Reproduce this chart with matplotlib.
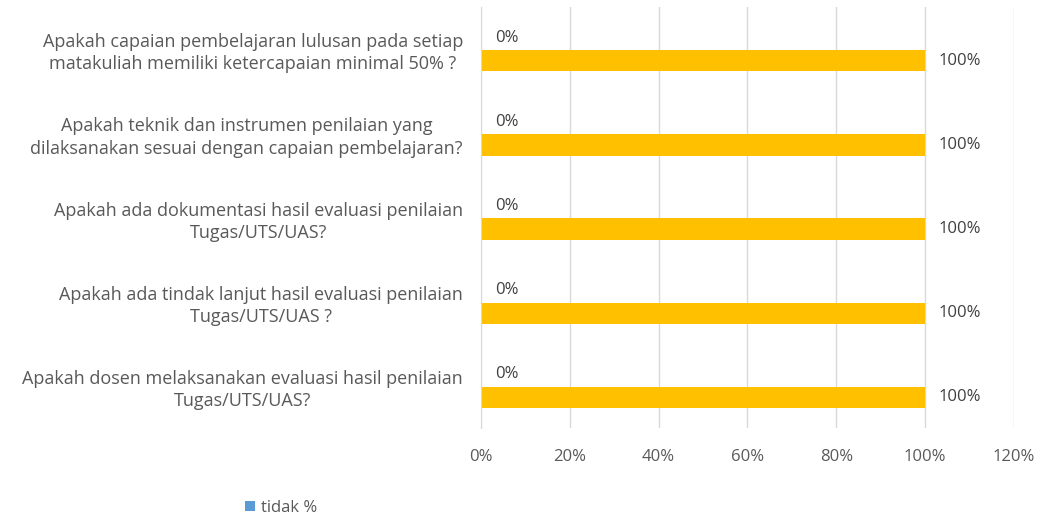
import matplotlib.pyplot as plt
import numpy as np

# === DATA ===
categories = [
    "Apakah capaian pembelajaran lulusan pada setiap\nmatakuliah memiliki ketercapaian minimal 50% ?",
    "Apakah teknik dan instrumen penilaian yang\ndilaksanakan sesuai dengan capaian pembelajaran?",
    "Apakah ada dokumentasi hasil evaluasi penilaian\nTugas/UTS/UAS?",
    "Apakah ada tindak lanjut hasil evaluasi penilaian\nTugas/UTS/UAS ?",
    "Apakah dosen melaksanakan evaluasi hasil penilaian\nTugas/UTS/UAS?",
]
tidak_pct = [0, 0, 0, 0, 0]
ya_pct = [100, 100, 100, 100, 100]
x_ticks = [0, 20, 40, 60, 80, 100, 120]

plt.rcParams['font.family'] = ['Open Sans', 'DejaVu Sans']

fig = plt.figure(figsize=(10.48, 5.19), dpi=100)
ax = fig.add_axes([0.459, 0.1753, 0.5085, 0.8112])

# two bars per question: tidak on top, ya below
y = np.arange(len(categories))
h = 0.254
off = 0.137
b_tidak = ax.barh(y - off, tidak_pct, height=h, color="#5B9BD5", label="tidak %")
b_ya = ax.barh(y + off, ya_pct, height=h, color="#FFC000", label="ya %")

for bars in (b_tidak, b_ya):
    for rect in bars:
        v = rect.get_width()
        ax.annotate(f"{v:.0f}%", (v, rect.get_y() + rect.get_height() / 2),
                    xytext=(10, 0), textcoords="offset points",
                    ha="left", va="center", fontsize=12, color="#404040")

ax.set_ylim(len(categories) - 0.5, -0.5)
ax.set_xlim(0, 120)
ax.set_xticks(x_ticks)
ax.set_xticklabels([f"{t}%" for t in x_ticks], fontsize=12, color="#595959")
ax.set_yticks(y)
ax.set_yticklabels(categories, fontsize=13, color="#595959",
                   multialignment="center", linespacing=1.3)
ax.tick_params(axis="both", length=0)
ax.tick_params(axis="x", pad=15)
ax.tick_params(axis="y", pad=13)

ax.grid(axis="x", color="#D9D9D9", linewidth=1)
ax.set_axisbelow(True)
for s in ("top", "right", "bottom"):
    ax.spines[s].set_visible(False)
ax.spines["left"].set_color("#D9D9D9")

# legend in the reference only shows the tidak series
ax.legend(handles=[b_tidak], loc="center", bbox_to_anchor=(-0.375, -0.19),
          frameon=False, fontsize=12, handlelength=0.6, handleheight=0.6,
          handletextpad=0.4, labelcolor="#595959")

fig.savefig("out.png", dpi=100)
